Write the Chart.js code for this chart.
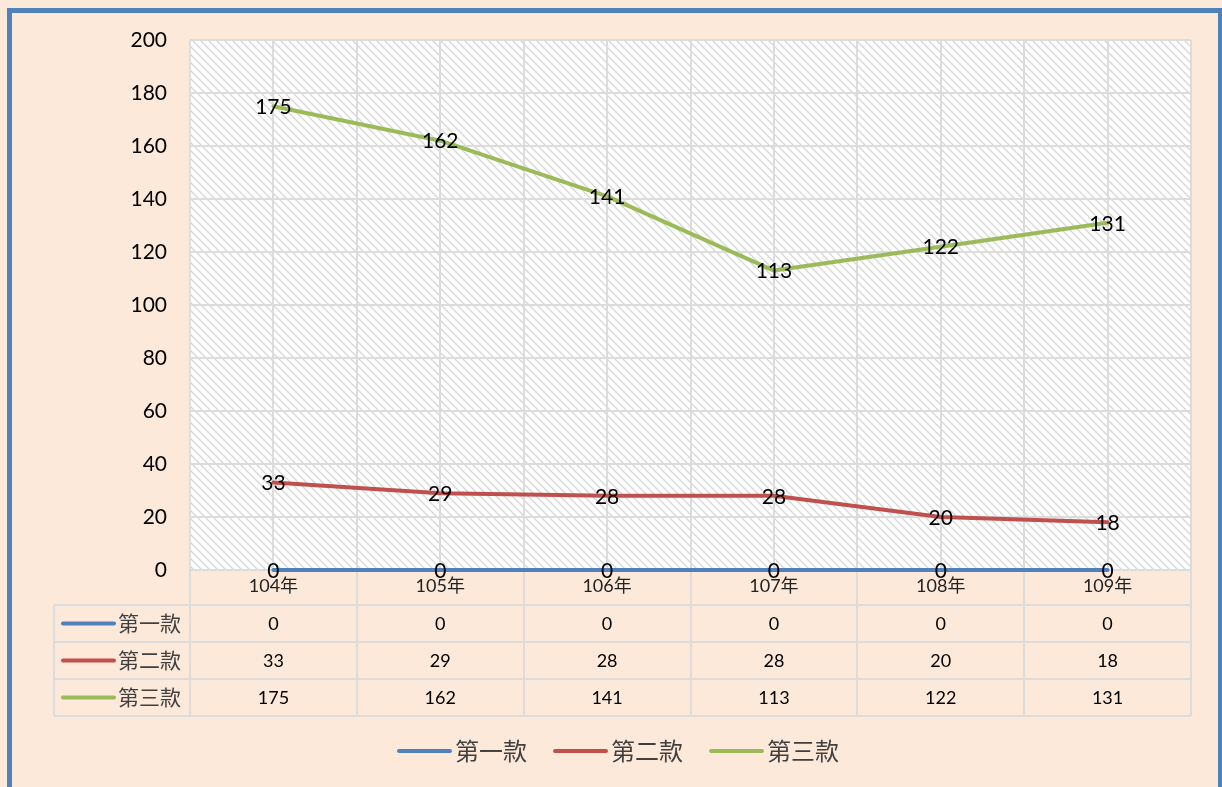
<!DOCTYPE html>
<html><head><meta charset="utf-8">
<script src="https://cdn.jsdelivr.net/npm/chart.js@4"></script>
<style>html,body{margin:0;padding:0;background:#FDE9D9}canvas{display:block}</style>
</head><body>
<canvas id="c" width="1222" height="787"></canvas>
<script>
const categories = ['104年','105年','106年','107年','108年','109年'];
const seriesNames = ['第一款','第二款','第三款'];
const series1 = [0,0,0,0,0,0];
const series2 = [33,29,28,28,20,18];
const series3 = [175,162,141,113,122,131];
const yMin = 0, yMax = 200, yStep = 20;
const seriesColors = ['#4F81BD','#C0504D','#9BBB59'];

const NUM_FONT = "Lato, 'Liberation Sans', sans-serif";
const CJK_FONT = "'Noto Sans CJK TC', 'Noto Sans CJK SC', sans-serif";
const GRID = '#DCDCDC';

function colBounds(x){
  const n = categories.length, w = (x.right - x.left)/n;
  const b = []; for(let i=0;i<=n;i++) b.push(x.left + i*w);
  return b;
}

const deco = {
  id:'deco',
  beforeDraw(chart){
    const {ctx, chartArea:a} = chart;
    ctx.save();
    ctx.fillStyle='#FDE9D9'; ctx.fillRect(0,0,chart.width,chart.height);
    const p = document.createElement('canvas'); p.width=8; p.height=8;
    const pc = p.getContext('2d');
    pc.fillStyle='#ffffff'; pc.fillRect(0,0,8,8);
    pc.strokeStyle='#D6D6D6'; pc.lineWidth=1.3;
    pc.beginPath();
    pc.moveTo(-2,-2); pc.lineTo(10,10);
    pc.moveTo(-2,6); pc.lineTo(2,10);
    pc.moveTo(6,-2); pc.lineTo(10,2);
    pc.stroke();
    ctx.fillStyle = ctx.createPattern(p,'repeat');
    ctx.fillRect(a.left,a.top,a.right-a.left,a.bottom-a.top);
    ctx.strokeStyle='#4F81BD'; ctx.lineWidth=5;
    ctx.strokeRect(9.5,10.5,1211,800);
    ctx.restore();
  },
  beforeDatasetsDraw(chart){
    const {ctx, chartArea:a} = chart;
    const x = chart.scales.x;
    ctx.save();
    ctx.strokeStyle = GRID; ctx.lineWidth = 2;
    for(let i=0;i<categories.length;i++){
      const px = Math.round(x.getPixelForValue(i));
      ctx.beginPath(); ctx.moveTo(px,a.top); ctx.lineTo(px,a.bottom); ctx.stroke();
    }
    const b = colBounds(x);
    const rowTop = a.bottom, headH = 35, rowH = 37;
    const tableLeft = 54;
    const rows = [series1, series2, series3];
    const yLines = [rowTop + headH];
    for(let r=1;r<=rows.length;r++) yLines.push(rowTop + headH + r*rowH);
    const bottom = yLines[yLines.length-1];
    ctx.beginPath(); ctx.moveTo(a.left, rowTop); ctx.lineTo(a.right, rowTop); ctx.stroke();
    yLines.forEach(y=>{ ctx.beginPath(); ctx.moveTo(tableLeft,y); ctx.lineTo(a.right,y); ctx.stroke(); });
    b.forEach(px=>{ ctx.beginPath(); ctx.moveTo(Math.round(px),rowTop); ctx.lineTo(Math.round(px),bottom); ctx.stroke(); });
    ctx.beginPath(); ctx.moveTo(tableLeft,yLines[0]); ctx.lineTo(tableLeft,bottom); ctx.stroke();
    ctx.textBaseline='middle';
    rows.forEach((vals,r)=>{
      const cy = yLines[r] + rowH/2;
      ctx.fillStyle='#000'; ctx.font = "18px " + NUM_FONT; ctx.textAlign='center';
      vals.forEach((v,i)=> ctx.fillText(String(v), x.getPixelForValue(i), cy+1));
      ctx.strokeStyle = seriesColors[r]; ctx.lineWidth = 4; ctx.lineCap='round';
      ctx.beginPath(); ctx.moveTo(63,cy); ctx.lineTo(114,cy); ctx.stroke();
      ctx.fillStyle='#404040'; ctx.font = "21px " + CJK_FONT; ctx.textAlign='left';
      ctx.fillText(seriesNames[r], 118, cy);
      ctx.strokeStyle = GRID; ctx.lineWidth = 2; ctx.lineCap='butt';
    });
    ctx.restore();
  },
  afterDatasetsDraw(chart){
    const ctx = chart.ctx;
    ctx.save();
    ctx.fillStyle='#000'; ctx.font = "21px " + NUM_FONT;
    ctx.textAlign='center'; ctx.textBaseline='middle';
    chart.data.datasets.forEach((ds,di)=>{
      chart.getDatasetMeta(di).data.forEach((pt,i)=>{
        ctx.fillText(String(ds.data[i]), pt.x, pt.y+1);
      });
    });
    ctx.font = "24px " + CJK_FONT;
    const lineW = 55, gap = 3, itemGap = 26;
    const widths = seriesNames.map(s=>ctx.measureText(s).width);
    const total = widths.reduce((s,w)=>s+lineW+gap+w,0) + itemGap*(seriesNames.length-1);
    let lx = 618 - total/2; const ly = 751;
    seriesNames.forEach((s,i)=>{
      ctx.strokeStyle = seriesColors[i]; ctx.lineWidth = 4; ctx.lineCap='round';
      ctx.beginPath(); ctx.moveTo(lx+2,ly); ctx.lineTo(lx+lineW-2,ly); ctx.stroke();
      ctx.fillStyle='#404040'; ctx.textAlign='left';
      ctx.fillText(s, lx+lineW+gap, ly);
      lx += lineW+gap+widths[i]+itemGap;
    });
    ctx.restore();
  }
};

const mk = (label, data, color) => ({
  label, data, borderColor: color, backgroundColor: color,
  borderWidth: 4, pointRadius: 0, pointHoverRadius: 0, tension: 0,
  borderCapStyle: 'round', borderJoinStyle: 'round', clip: false
});

new Chart(document.getElementById('c'), {
  type: 'line',
  data: {
    labels: categories,
    datasets: [
      mk(seriesNames[0], series1, seriesColors[0]),
      mk(seriesNames[1], series2, seriesColors[1]),
      mk(seriesNames[2], series3, seriesColors[2])
    ]
  },
  options: {
    responsive: false, animation: false, devicePixelRatio: 1,
    layout: { padding: { top: 40, right: 31, bottom: 182, left: 0 } },
    plugins: { legend: { display: false }, tooltip: { enabled: false } },
    scales: {
      x: {
        offset: true,
        grid: { offset: true, color: GRID, lineWidth: 2, drawTicks: false },
        border: { display: false },
        ticks: { font: { family: "Lato, 'Noto Sans CJK TC'", size: 18 }, color: '#222', padding: 5, maxRotation: 0 },
        afterFit(s){ s.height = 35; }
      },
      y: {
        min: yMin, max: yMax,
        grid: { color: GRID, lineWidth: 2, drawTicks: false },
        border: { display: false },
        ticks: { stepSize: yStep, font: { family: NUM_FONT, size: 21 }, color: '#000', padding: 23 },
        afterFit(s){ s.width = 190; }
      }
    }
  },
  plugins: [deco]
});
</script>
</body></html>
